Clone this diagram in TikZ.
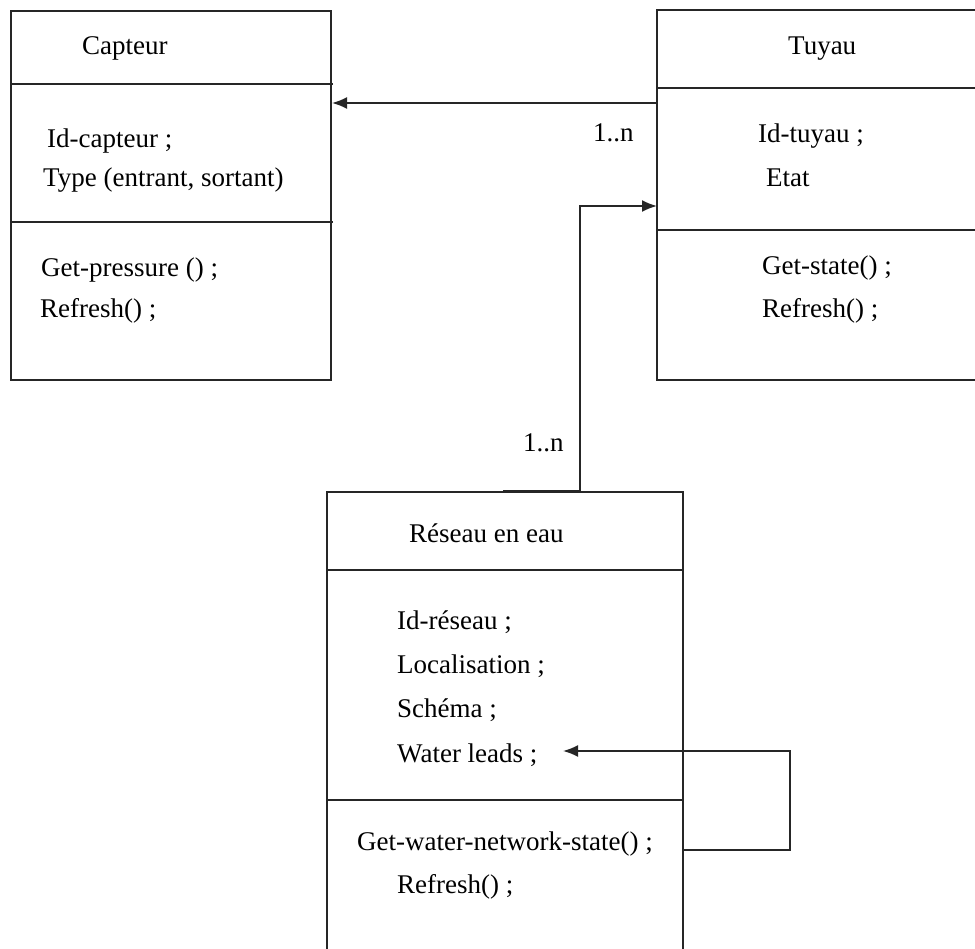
\documentclass[tikz,border=0pt]{standalone}
\usepackage{fontspec}
\setmainfont{Liberation Serif}
\usetikzlibrary{arrows.meta,calc}

\tikzset{
  frame/.style={draw=none, inner sep=0pt, outer sep=0pt},
  edge/.style={line width=1.8pt, black!85},
  txt/.style={anchor=base west, inner sep=0pt, font=\fontsize{27}{32}\selectfont},
  assoc/.style={edge, -{Latex[length=15pt,width=12pt]}},
}

\begin{document}
\begin{tikzpicture}[x=1pt, y=-1pt]
\useasboundingbox (0,0) rectangle (975,949);

% ---- class frames (outlines drawn below) ----
\node[frame, minimum width=320pt, minimum height=369pt] (capteur) at (171,195.5) {};
\node[frame, minimum width=318pt, minimum height=370pt] (tuyau) at (816,195) {};
\node[frame, minimum width=356pt, minimum height=457pt] (reseau) at (505,720.5) {};

% Capteur
\draw[edge] (capteur.north west) rectangle (capteur.south east);
\draw[edge] (11,84) -- (333,84);
\draw[edge] (11,222) -- (333,222);
\node[txt] (cT) at (82,55) {Capteur};
\node[txt] (c1) at (47,148) {Id-capteur ;};
\node[txt] (c2) at (43,187) {Type (entrant, sortant)};
\node[txt] (c3) at (41,277) {Get-pressure () ;};
\node[txt] (c4) at (40,318) {Refresh() ;};

% Tuyau (open on the right)
\draw[edge] (tuyau.north east) -- (tuyau.north west) -- (tuyau.south west) -- (tuyau.south east);
\draw[edge] (657,88) -- (975,88);
\draw[edge] (657,230) -- (975,230);
\node[txt] (tT) at (788,55) {Tuyau};
\node[txt] (t1) at (758,143) {Id-tuyau ;};
\node[txt] (t2) at (766,187) {Etat};
\node[txt] (t3) at (762,275) {Get-state() ;};
\node[txt] (t4) at (762,318) {Refresh() ;};

% Reseau en eau (open at the bottom)
\draw[edge] (reseau.south west) -- (reseau.north west) -- (reseau.north east) -- (reseau.south east);
\draw[edge] (327,570) -- (683,570);
\draw[edge] (327,800) -- (683,800);
\node[txt] (rT) at (409,542) {Réseau en eau};
\node[txt] (r1) at (397,629) {Id-réseau ;};
\node[txt] (r2) at (397,673) {Localisation ;};
\node[txt] (r3) at (397,717) {Schéma ;};
\node[txt] (r4) at (397,762) {Water leads ;};
\node[txt] (r5) at (357,850) {Get-water-network-state() ;};
\node[txt] (r6) at (397,893) {Refresh() ;};

% ---- associations ----
\coordinate (tuyauL1) at (657,103);
\coordinate (capteurR) at (332,103);
\draw[assoc] (tuyauL1) -- (capteurR);
\node[txt] (m1) at (593,142) {1..n};

\coordinate (reseauTop) at (503,491);
\coordinate (reseauUp) at (580,491);
\coordinate (tuyauL2) at (657,206);
\draw[assoc] (reseauTop) -- (reseauUp) |- (tuyauL2);
\node[txt] (m2) at (523,452) {1..n};

% self association on Reseau en eau
\coordinate (selfOut) at (683,850);
\coordinate (selfCorner) at (790,850);
\coordinate (selfIn) at (563,751);
\draw[assoc] (selfOut) -- (selfCorner) |- (selfIn);

\end{tikzpicture}
\end{document}
